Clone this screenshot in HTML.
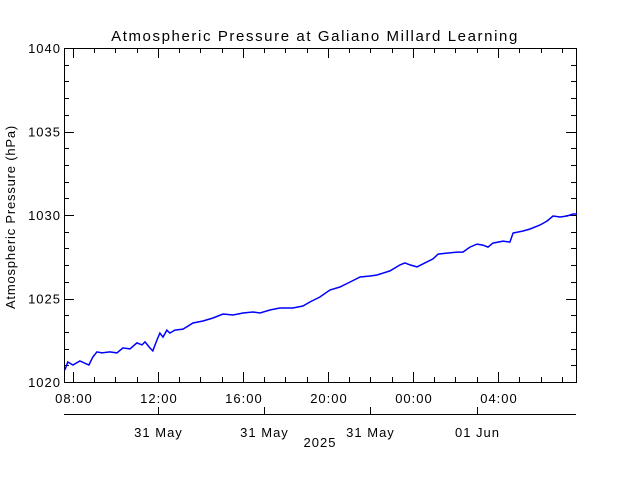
<!DOCTYPE html>
<html><head><meta charset="utf-8"><style>
body{margin:0;background:#fff}
svg text{font-family:"Liberation Sans",sans-serif;fill:#000}
</style></head><body>
<svg id="chart" width="640" height="480" viewBox="0 0 640 480" xmlns="http://www.w3.org/2000/svg">
<rect width="640" height="480" fill="#fff"/>
<text x="315" y="41" font-size="15" letter-spacing="1.6" text-anchor="middle">Atmospheric Pressure at Galiano Millard Learning</text>
<text transform="translate(15,217) rotate(-90)" font-size="13" letter-spacing="0.8" text-anchor="middle">Atmospheric Pressure (hPa)</text>
<text x="320" y="447" font-size="13" letter-spacing="1" text-anchor="middle">2025</text>
<g id="axes"></g>
<polyline id="series" fill="none" stroke="#0000ff" stroke-width="1.5"/>
</svg>
<script>
// hours since 31 May 08:00
const times=[-0.38,-0.24,0,0.33,0.75,0.94,1.13,1.36,1.74,2.07,2.35,2.68,3.01,3.25,3.39,3.62,3.76,3.95,4.09,4.24,4.42,4.56,4.80,5.18,5.65,6.12,6.59,7.06,7.53,8.00,8.47,8.80,9.27,9.74,10.35,10.82,11.15,11.62,12.09,12.56,13.04,13.51,13.98,14.31,14.92,15.39,15.62,15.86,16.19,16.56,16.94,17.18,17.60,18.07,18.35,18.68,19.01,19.29,19.53,19.76,20.24,20.56,20.71,21.18,21.51,21.98,22.31,22.59,22.92,23.25,23.53,23.72];
const pressure=[1020.72,1021.20,1021.02,1021.26,1021.02,1021.50,1021.80,1021.74,1021.80,1021.74,1022.04,1021.98,1022.34,1022.22,1022.40,1022.04,1021.86,1022.51,1022.93,1022.69,1023.11,1022.93,1023.11,1023.17,1023.53,1023.65,1023.83,1024.07,1024.01,1024.13,1024.19,1024.13,1024.31,1024.43,1024.43,1024.55,1024.79,1025.09,1025.51,1025.69,1025.99,1026.29,1026.35,1026.41,1026.65,1027.01,1027.13,1027.01,1026.89,1027.13,1027.37,1027.66,1027.72,1027.78,1027.78,1028.08,1028.26,1028.20,1028.08,1028.32,1028.44,1028.38,1028.92,1029.04,1029.16,1029.40,1029.64,1029.94,1029.88,1029.94,1030.06,1030.06];
const yTicks=[1020,1025,1030,1035,1040];
const xTickHours=[0,4,8,12,16,20];
const xTickLabels=["08:00","12:00","16:00","20:00","00:00","04:00"];
const dateTickHours=[4,9,14,19];
const dateTickLabels=["31 May","31 May","31 May","01 Jun"];
const X0=64,X1=576,Y0=382,Y1=48,TMIN=-0.42,TMAX=23.67,VMIN=1020,VMAX=1040;
const sx=t=>X0+(t-TMIN)/(TMAX-TMIN)*(X1-X0);
const sy=v=>Y0-(v-VMIN)/(VMAX-VMIN)*(Y0-Y1);
const NS="http://www.w3.org/2000/svg";
const g=document.getElementById('axes');
function line(x1,y1,x2,y2,name){const l=document.createElementNS(NS,'line');
l.setAttribute('x1',x1);l.setAttribute('y1',y1);l.setAttribute('x2',x2);l.setAttribute('y2',y2);
l.setAttribute('stroke','#000');l.setAttribute('stroke-width','1');


g.appendChild(l);}
function text(x,y,s,anchor,name){const t=document.createElementNS(NS,'text');
t.setAttribute('x',x);t.setAttribute('y',y);t.setAttribute('font-size','13');t.setAttribute('letter-spacing','1');t.setAttribute('text-anchor',anchor);t.textContent=s;


g.appendChild(t);}
const r=document.createElementNS(NS,'rect');
r.setAttribute('x',X0+0.5);r.setAttribute('y',Y1+0.5);r.setAttribute('width',X1-X0);r.setAttribute('height',Y0-Y1);
r.setAttribute('fill','none');r.setAttribute('stroke','#000');


g.appendChild(r);
for(let v=VMIN;v<=VMAX;v++){const y=Math.round(sy(v))+0.5;const major=(v%5===0);const len=major?10:5;
line(X0,y,X0+len,y,'y-tick');line(X1-len,y,X1,y,'y-tick-right');}
yTicks.forEach(v=>text(X0-3,sy(v)+5,String(v),'end','y-tick-label'));
for(let h=Math.ceil(TMIN);h<=TMAX;h++){const x=Math.round(sx(h))+0.5;const major=(h%4===0);const len=major?10:5;
line(x,Y0,x,Y0-len,'x-tick');line(x,Y1,x,Y1+len,'x-tick-top');}
xTickHours.forEach((h,i)=>text(sx(h)+1,Y0+21,xTickLabels[i],'middle','x-tick-label'));
line(X0,414.5,X1,414.5,'date-axis');
dateTickHours.forEach((h,i)=>{const x=Math.round(sx(h))+0.5;line(x,414,x,407,'date-tick');text(x,437,dateTickLabels[i],'middle','date-tick-label');});
document.getElementById('series').setAttribute('points',times.map((t,i)=>sx(t).toFixed(1)+','+sy(pressure[i]).toFixed(1)).join(' '));
</script>
</body></html>
